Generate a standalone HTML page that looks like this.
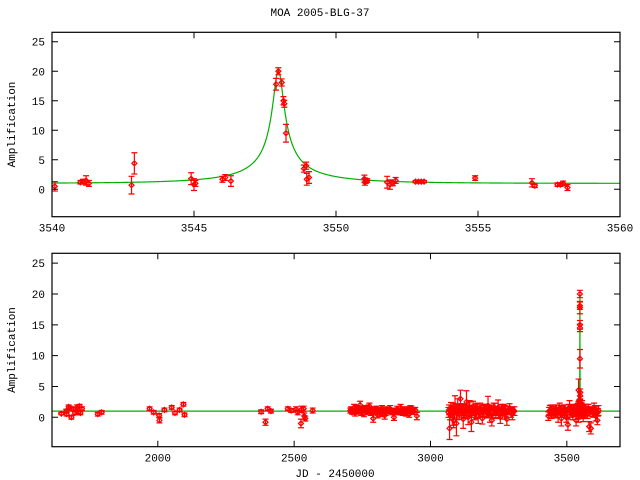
<!DOCTYPE html>
<html><head><meta charset="utf-8">
<style>
html,body{margin:0;padding:0;background:#fff;}
svg{display:block;font-family:"Liberation Mono",monospace;font-size:11px;}
</style></head>
<body>
<svg id="chart" width="640" height="480" xmlns="http://www.w3.org/2000/svg">
<text x="320" y="16" text-anchor="middle">MOA 2005-BLG-37</text>
<text x="335" y="477" text-anchor="middle">JD - 2450000</text>
<g id="top"></g>
<g id="bot"></g>
</svg>
<script>
// model parameters
const modelT0 = 3547.97, modelU0 = 0.0496, modelTE = 4.0;
// top panel data (JD-2450000, amplification, error)
const topT = [3540.1,3541.0,3541.1,3541.2,3541.3,3542.8,3542.9,3544.9,3545.0,3545.05,3546.0,3546.1,3546.3,3547.89,3547.97,3548.09,3548.15,3548.18,3548.24,3548.87,3548.95,3548.97,3549.05,3551.0,3551.02,3551.05,3551.1,3551.8,3551.9,3552.0,3552.1,3552.8,3552.9,3553.0,3553.1,3554.9,3556.9,3557.0,3557.8,3557.9,3558.0,3558.15];
const topA = [0.5,1.2,1.3,1.5,1.0,0.7,4.4,1.8,0.8,1.0,1.7,2.0,1.4,17.8,20.0,18.1,15.0,14.5,9.5,3.5,4.0,1.7,2.0,1.8,1.2,1.4,1.5,1.2,0.8,1.0,1.5,1.3,1.3,1.3,1.3,1.9,1.1,0.6,0.8,0.8,1.0,0.3];
const topE = [0.8,0.3,0.4,0.8,0.5,1.5,1.8,1.0,1.0,0.5,0.5,0.5,0.9,1.0,0.6,0.6,0.7,0.6,1.5,0.6,0.6,1.0,1.0,0.6,0.5,0.4,0.3,1.0,0.8,0.4,0.5,0.2,0.2,0.2,0.2,0.4,0.7,0.3,0.3,0.3,0.4,0.5];
// bottom panel extra data (earlier seasons + baseline of 2005 season)
const botT = [1646,1664,1666,1673,1678,1683,1691,1696,1703,1708,1713,1716,1722,1780,1794,
1970,1985,2005,2006,2024,2051,2063,2080,2094,2098,
2379,2395,2403,2415,2477,2489,2507,2513,2525,2527,2535,2537,2541,2568,
2706,2712,2720,2728,2735,2742,2750,2756,2762,2770,2776,2782,2790,2796,2802,2810,2818,2826,2832,2840,2848,2856,2866,2874,2882,2890,2898,2906,2914,2922,2930,2938,2950,
3066,3070,3075,3080,3085,3090,3095,3100,3105,3110,3115,3120,3126,3132,3138,3144,3150,3156,3162,3168,3175,3182,3190,3197,3204,3211,3218,3225,3232,3240,3248,3256,3264,3272,3280,3290,3300,3308,
3432,3438,3444,3450,3456,3462,3468,3474,3480,3486,3492,3498,3504,3510,3516,3522,3528,3534,3540,3544,3556,3560,3566,3570,3576,3582,3588,3594,3600,3606,3612,3616];
const botA = [0.6,1.0,0.5,1.7,1.5,0.0,1.3,0.7,1.6,0.8,1.8,0.7,1.4,0.5,0.8,
1.4,0.8,0.3,-0.5,1.2,1.6,0.7,1.2,2.1,0.4,
0.9,-0.8,1.4,1.0,1.4,1.1,1.3,0.8,-1.0,1.3,1.4,0.2,-0.2,1.1,
1.1,0.8,1.6,1.2,0.9,2.0,1.3,0.6,1.5,1.0,1.8,0.7,-0.2,0.9,1.4,1.2,0.6,1.0,0.3,1.3,0.9,1.1,0.0,1.2,0.8,1.6,0.7,1.0,1.3,0.5,1.4,0.9,0.2,
0.8,-1.8,1.5,0.2,-0.5,2.0,-1.0,1.8,0.5,3.0,1.2,-0.3,0.9,2.5,0.0,1.4,-0.8,1.7,0.6,1.0,0.2,1.5,-0.2,1.1,0.9,1.9,0.3,-0.5,1.3,0.7,1.6,0.0,1.2,0.8,-0.3,1.4,0.5,1.0,0.2,1.1,0.6,0.8,
0.6,1.2,0.2,1.5,-0.2,0.9,1.3,0.0,-1.2,1.6,0.8,0.4,1.1,-0.5,1.4,0.7,1.9,0.3,1.0,1.2,0.6,-1.5,-1.8,0.9,1.4,0.2,-0.5,1.1,0.8,1.3,0.5,1.0];
const botE = [0.2,0.3,0.3,0.3,0.3,0.3,0.3,0.3,0.4,0.3,0.3,0.3,0.3,0.3,0.3,
0.3,0.3,0.3,0.4,0.3,0.3,0.3,0.3,0.3,0.3,
0.3,0.5,0.3,0.3,0.3,0.3,0.4,0.4,0.7,0.5,0.4,0.5,0.4,0.4,
0.4,0.3,0.5,0.5,0.4,0.6,0.4,0.5,0.4,0.3,0.5,0.4,0.6,0.4,0.4,0.3,0.5,0.4,0.6,0.4,0.3,0.4,0.5,0.3,0.4,0.5,0.4,0.3,0.4,0.5,0.4,0.4,0.6,
0.8,1.8,0.9,1.5,1.2,1.5,2.0,1.2,0.8,1.4,0.9,1.5,1.0,1.8,1.2,1.3,1.5,0.9,1.0,1.2,1.2,0.8,0.9,1.0,1.0,1.5,1.1,0.9,1.0,0.9,1.2,1.0,0.8,1.1,1.0,0.8,0.9,0.7,
0.7,0.8,0.8,0.9,0.7,0.8,1.0,0.8,1.2,0.9,0.7,0.8,0.9,1.1,0.8,0.8,1.0,0.9,0.8,0.9,0.8,1.0,1.1,0.9,0.8,0.8,0.9,0.8,0.9,0.8,0.7,0.8];
// additional dense-season observations
const moreT = [2709,2716,2724,2731,2739,2746,2753,2759,2766,2773,2779,2786,2793,2799,2806,2814,2822,2829,2836,2844,2852,2860,2870,2878,2886,2894,2902,2910,2918,2926,2934,2944,
3068,3072,3078,3083,3088,3093,3098,3103,3108,3113,3118,3123,3129,3135,3141,3147,3153,3159,3165,3172,3179,3186,3193,3200,3208,3215,3222,3229,3236,3244,3252,3260,3268,3276,3285,3295,3304,
3435,3441,3447,3453,3459,3465,3471,3477,3483,3489,3495,3501,3507,3513,3519,3525,3531,3537,3542,3552,3558,3563,3568,3573,3579,3585,3591,3597,3603,3609,3614];
const moreA = [1.3,1.0,0.7,1.5,1.2,0.8,1.4,1.1,0.9,1.6,1.2,1.0,1.3,0.8,0.4,1.1,1.5,1.0,0.7,1.2,1.4,0.8,1.0,1.3,1.1,0.9,1.2,0.6,1.0,1.4,0.9,1.2,
1.2,0.5,1.0,1.6,0.8,1.3,0.6,1.1,1.5,0.9,1.4,0.7,1.2,1.0,1.6,0.8,1.1,1.3,0.9,1.5,0.7,1.2,1.0,1.4,0.8,1.1,1.3,0.9,1.5,1.0,0.7,1.2,1.4,0.9,1.1,0.8,1.0,
1.0,1.3,0.8,1.1,1.4,0.7,1.0,1.2,0.9,1.3,1.0,0.6,1.5,1.1,0.8,1.2,0.7,1.4,1.1,0.9,1.3,0.8,1.2,1.0,1.5,0.9,1.1,0.7,1.3,1.0,0.8];
const moreE = [0.4,0.4,0.5,0.4,0.4,0.5,0.4,0.4,0.5,0.4,0.4,0.5,0.4,0.4,0.5,0.4,0.4,0.5,0.4,0.4,0.5,0.4,0.4,0.5,0.4,0.4,0.5,0.4,0.4,0.5,0.4,0.4,
0.8,0.9,0.8,0.7,0.9,0.8,1.0,0.8,0.7,0.9,0.8,0.9,0.8,0.7,0.9,0.8,0.8,0.7,0.9,0.8,0.7,0.8,0.9,0.7,0.8,0.8,0.7,0.9,0.8,0.7,0.8,0.9,0.7,0.8,0.7,0.8,0.7,
0.6,0.7,0.6,0.7,0.6,0.7,0.6,0.7,0.6,0.7,0.6,0.7,0.6,0.7,0.6,0.7,0.6,0.7,0.6,0.7,0.6,0.7,0.6,0.7,0.6,0.7,0.6,0.7,0.6,0.7,0.6];
const topXTicks = [3540,3545,3550,3555,3560];
const botXTicks = [2000,2500,3000,3500];
const yTicks = [0,5,10,15,20,25];

const NS = "http://www.w3.org/2000/svg";
function mk(parent, tag, attrs){const e=document.createElementNS(NS,tag);for(const k in attrs)e.setAttribute(k,attrs[k]);parent.appendChild(e);return e;}
function model(t){const u=Math.sqrt(modelU0*modelU0+Math.pow((t-modelT0)/modelTE,2));return (u*u+2)/(u*Math.sqrt(u*u+4));}

function panel(g, L, R, T, B, xmin, xmax, ymin, ymax, xticks, tsArr, aArr, eArr, modelStep){
  const sx=t=>L+(t-xmin)/(xmax-xmin)*(R-L);
  const sy=v=>B-(v-ymin)/(ymax-ymin)*(B-T);
  let d="";
  for(let t=xmin;t<=xmax;t+=modelStep){d+=(d?"L":"M")+sx(t).toFixed(2)+","+sy(model(t)).toFixed(2);}
  const m=mk(g,"path",{d:d,fill:"none",stroke:"#00b000","stroke-width":1.2});
  
  
  for(let s=0;s<tsArr.length;s++){
    const ts=tsArr[s],as=aArr[s],es=eArr[s];
    for(let i=0;i<ts.length;i++){
      if(ts[i]<xmin||ts[i]>xmax)continue;
      const x=sx(ts[i]),y1=sy(as[i]-es[i]),y2=sy(as[i]+es[i]),y=sy(as[i]);
      const p=mk(g,"path",{d:`M${x},${y1}V${y2}M${x-3},${y1}H${x+3}M${x-3},${y2}H${x+3}M${x-2.5},${y}L${x},${y-2.5}L${x+2.5},${y}L${x},${y+2.5}Z`,fill:"none",stroke:"#ff0000","stroke-width":1.2});
      
      
    }
  }
  const f=mk(g,"rect",{x:L,y:T,width:R-L,height:B-T,fill:"none",stroke:"#000","stroke-width":1.2});
  
  
  for(const v of yTicks){
    const y=sy(v);
    mk(g,"path",{d:`M${L},${y}h6M${R},${y}h-6`,stroke:"#000","stroke-width":1});
    const tl=mk(g,"text",{x:L-7,y:y+4,"text-anchor":"end"});tl.textContent=v;
    
    
  }
  for(const v of xticks){
    const x=sx(v);
    mk(g,"path",{d:`M${x},${B}v-6M${x},${T}v6`,stroke:"#000","stroke-width":1});
    const tl=mk(g,"text",{x:x,y:B+15,"text-anchor":"middle"});tl.textContent=v;
    
    
  }
  const yl=mk(g,"text",{x:0,y:0,"text-anchor":"middle",transform:`translate(15,${(T+B)/2}) rotate(-90)`});
  yl.textContent="Amplification";
  
  
}
panel(document.getElementById("top"),52,620,32.3,216.7,3540,3560,-4.64,26.6,topXTicks,[topT],[topA],[topE],0.02);
panel(document.getElementById("bot"),52,620,253.3,446.7,1612,3695,-4.77,26.6,botXTicks,[botT,moreT,topT],[botA,moreA,topA],[botE,moreE,topE],0.05);
</script>
</body></html>
